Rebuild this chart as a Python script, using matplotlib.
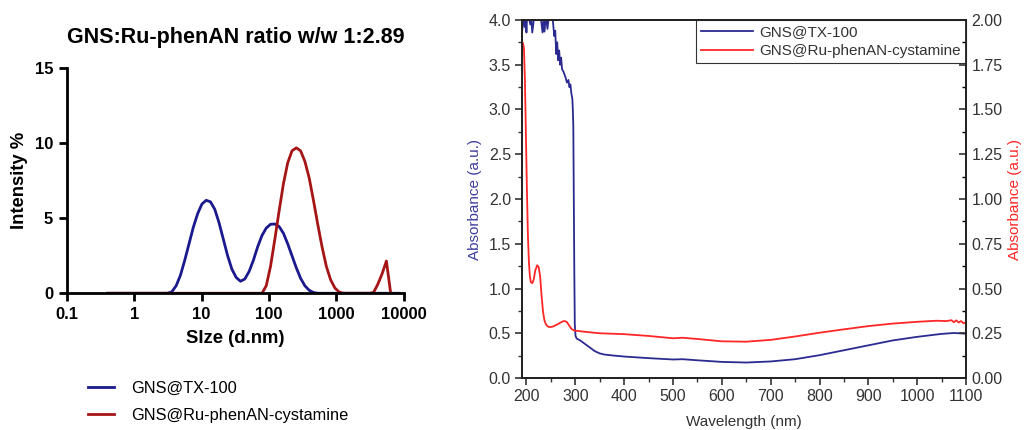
import numpy as np
import matplotlib.pyplot as plt
from matplotlib.ticker import MultipleLocator, FixedLocator, NullLocator
from matplotlib.lines import Line2D

plt.rcParams['font.family'] = ['Liberation Sans', 'DejaVu Sans']

# ---- DLS data (size distribution by intensity) ----
dls_size = [0.4, 0.4632, 0.5365, 0.6213, 0.7195, 0.8332, 0.9649, 1.117, 1.294, 1.499,
            1.736, 2.01, 2.328, 2.696, 3.122, 3.615, 4.187, 4.849, 5.615, 6.503,
            7.531, 8.721, 10.1, 11.7, 13.54, 15.69, 18.17, 21.04, 24.36, 28.21,
            32.67, 37.84, 43.82, 50.75, 58.77, 68.06, 78.82, 91.28, 105.7, 122.4,
            141.8, 164.2, 190.1, 220.2, 255.0, 295.3, 342.0, 396.1, 458.7, 531.2,
            615.1, 712.4, 825.0, 955.4, 1106, 1281, 1484, 1718, 1990, 2305,
            2669, 3091, 3580, 4145, 4801, 5560, 6439, 7456, 8635]
tx100_int = [0, 0, 0, 0, 0, 0, 0, 0, 0, 0,
             0, 0, 0, 0, 0, 0.1, 0.5, 1.2, 2.2, 3.3,
             4.4, 5.3, 5.95, 6.2, 6.1, 5.6, 4.7, 3.6, 2.5, 1.6,
             1.05, 0.8, 0.95, 1.45, 2.2, 3.1, 3.85, 4.35, 4.6, 4.62,
             4.45, 4.0, 3.3, 2.5, 1.7, 1.0, 0.5, 0.2, 0.05, 0,
             0, 0, 0, 0, 0, 0, 0, 0, 0, 0,
             0, 0, 0, 0, 0, 0, 0, 0, 0]
ru_int = [0, 0, 0, 0, 0, 0, 0, 0, 0, 0,
          0, 0, 0, 0, 0, 0, 0, 0, 0, 0,
          0, 0, 0, 0, 0, 0, 0, 0, 0, 0,
          0, 0, 0, 0, 0, 0, 0, 0.5, 1.8, 3.6,
          5.5, 7.3, 8.7, 9.5, 9.7, 9.5, 8.8, 7.7, 6.2, 4.6,
          3.1, 1.8, 0.9, 0.35, 0.08, 0, 0, 0, 0, 0,
          0, 0, 0.05, 0.6, 1.3, 2.15, 0]

# ---- UV-vis data ----
wl_tx = [191, 193, 195, 197, 199, 200, 201, 203, 206, 208, 210, 212, 215, 220,
         225, 230, 233, 235, 237, 239, 241, 243, 245, 247, 250, 254, 257, 259,
         261, 263, 265, 267, 269, 271, 273, 276, 280, 283, 286, 288, 290, 292,
         294, 295, 296, 297, 298, 299, 300.5, 303, 310, 320, 330, 340, 350, 360,
         380, 400, 450, 500, 520, 550, 600, 650, 700, 750, 800, 850, 900, 950,
         1000, 1050, 1075, 1100]
abs_tx = [3.87, 3.95, 4.0, 3.92, 4.0, 3.86, 4.0, 4.0, 4.0, 3.95, 4.0, 3.86, 4.0, 4.0,
          4.0, 4.0, 3.86, 4.0, 3.87, 4.0, 4.0, 3.9, 4.0, 4.0, 4.0, 4.0, 3.82, 3.88,
          3.62, 3.75, 3.55, 3.66, 3.5, 3.58, 3.45, 3.42, 3.36, 3.3, 3.33, 3.25, 3.28, 3.18,
          3.12, 3.0, 2.8, 2.0, 1.2, 0.6, 0.47, 0.44, 0.42, 0.38, 0.34, 0.3, 0.275, 0.262,
          0.25, 0.24, 0.222, 0.207, 0.21, 0.198, 0.18, 0.173, 0.185, 0.21, 0.255, 0.31, 0.365, 0.42,
          0.46, 0.493, 0.503, 0.495]

wl_ru = [193, 195, 197, 199, 201, 203, 205, 207, 209, 212, 215, 218, 222, 225,
         228, 231, 234, 237, 240, 243, 246, 250, 255, 260, 265, 270, 275, 279,
         283, 287, 292, 297, 302, 320, 350, 400, 450, 500, 520, 550, 600, 650,
         700, 750, 800, 850, 900, 950, 1000, 1040, 1060, 1070, 1075, 1080, 1085,
         1090, 1095, 1100]
abs_ru = [1.87, 1.84, 1.65, 1.35, 1.05, 0.8, 0.65, 0.57, 0.535, 0.53, 0.55, 0.6, 0.63, 0.62,
          0.57, 0.46, 0.37, 0.32, 0.3, 0.29, 0.285, 0.285, 0.288, 0.295, 0.302, 0.31, 0.317, 0.318,
          0.312, 0.295, 0.275, 0.266, 0.264, 0.258, 0.25, 0.245, 0.235, 0.222, 0.225, 0.218, 0.205, 0.203,
          0.213, 0.232, 0.253, 0.272, 0.29, 0.304, 0.314, 0.32, 0.318, 0.323, 0.312, 0.322, 0.31,
          0.318, 0.305, 0.312]

blue_dls = '#1a1a8e'
red_dls = '#a51515'
blue_uv = '#2a2a90'
red_uv = '#ff2626'
txt_uv = '#333333'

fig = plt.figure(figsize=(10.24, 4.3), dpi=100)

# ---------- left: DLS ----------
ax = fig.add_axes([0.0654, 0.318, 0.3287, 0.523])
ax.plot(dls_size, tx100_int, color=blue_dls, lw=2)
ax.plot(dls_size[:len(ru_int)], ru_int, color=red_dls, lw=2)
ax.set_xscale('log')
ax.set_xlim(0.1, 10000)
ax.set_ylim(0, 15)
ax.xaxis.set_major_locator(FixedLocator([0.1, 1, 10, 100, 1000, 10000]))
ax.xaxis.set_minor_locator(NullLocator())
ax.set_xticklabels(['0.1', '1', '10', '100', '1000', '10000'])
ax.yaxis.set_major_locator(MultipleLocator(5))
for s in ['top', 'right']:
    ax.spines[s].set_visible(False)
for s in ['left', 'bottom']:
    ax.spines[s].set_linewidth(2)
ax.tick_params(width=2, length=6, labelsize=12, pad=4)
for lab in ax.get_xticklabels() + ax.get_yticklabels():
    lab.set_fontweight('bold')
ax.set_xlabel('SIze (d.nm)', fontsize=13.3, fontweight='bold', labelpad=6)
ax.set_ylabel('Intensity %', fontsize=13.3, fontweight='bold', labelpad=5)
ax.set_title('GNS:Ru-phenAN ratio w/w 1:2.89', fontsize=15.5, fontweight='bold', pad=18)

handles = [Line2D([], [], color=blue_dls, lw=2), Line2D([], [], color=red_dls, lw=2)]
fig.legend(handles, ['GNS@TX-100', 'GNS@Ru-phenAN-cystamine'], loc='upper left',
           bbox_to_anchor=(0.086, 0.115), frameon=False, fontsize=11.8,
           handlelength=1.6, handletextpad=1.0, labelspacing=0.75,
           borderaxespad=0, borderpad=0)

# ---------- right: UV-vis ----------
ax1 = fig.add_axes([0.5098, 0.1209, 0.4336, 0.8326])
ax2 = ax1.twinx()
l1, = ax1.plot(wl_tx, abs_tx, color=blue_uv, lw=1.3)
l2, = ax2.plot(wl_ru, abs_ru, color=red_uv, lw=1.3)
ax1.set_xlim(191, 1100)
ax1.set_ylim(0, 4.0)
ax2.set_ylim(0, 2.0)
ax1.xaxis.set_major_locator(MultipleLocator(100))
ax1.xaxis.set_minor_locator(MultipleLocator(50))
ax1.yaxis.set_major_locator(MultipleLocator(0.5))
ax1.yaxis.set_minor_locator(MultipleLocator(0.25))
ax2.yaxis.set_major_locator(MultipleLocator(0.25))
ax2.yaxis.set_minor_locator(MultipleLocator(0.125))
ax1.yaxis.set_major_formatter(lambda v, p: '%.1f' % v)
ax2.yaxis.set_major_formatter(lambda v, p: '%.2f' % v)
for a in (ax1, ax2):
    for s in a.spines.values():
        s.set_linewidth(1.3)
        s.set_color('#222222')
ax1.tick_params(axis='both', which='major', direction='out', length=5, width=1.2,
                labelsize=11.5, colors=txt_uv, pad=3)
ax1.tick_params(axis='both', which='minor', direction='out', length=3, width=1.0, colors=txt_uv)
ax1.tick_params(axis='x', top=False, which='both')
ax2.tick_params(axis='y', which='major', direction='in', length=5, width=1.2,
                labelsize=11.5, colors=txt_uv, pad=4)
ax2.tick_params(axis='y', which='minor', direction='in', length=3, width=1.0)
ax1.set_xlabel('Wavelength (nm)', fontsize=11, color=txt_uv, labelpad=8)
ax1.set_ylabel('Absorbance (a.u.)', fontsize=11, color='#3d3d9e', labelpad=5)
ax2.set_ylabel('Absorbance (a.u.)', fontsize=11, color=red_uv, labelpad=4)

leg = ax1.legend([l1, l2], ['GNS@TX-100', 'GNS@Ru-phenAN-cystamine'], loc='upper right',
                 fontsize=11, fancybox=False, framealpha=1, edgecolor='#333333',
                 borderaxespad=0, handlelength=3.4, handletextpad=0.4, borderpad=0.35,
                 labelspacing=0.3)
leg.get_frame().set_linewidth(0.8)
for t in leg.get_texts():
    t.set_color(txt_uv)

fig.savefig('out.png', dpi=100)
